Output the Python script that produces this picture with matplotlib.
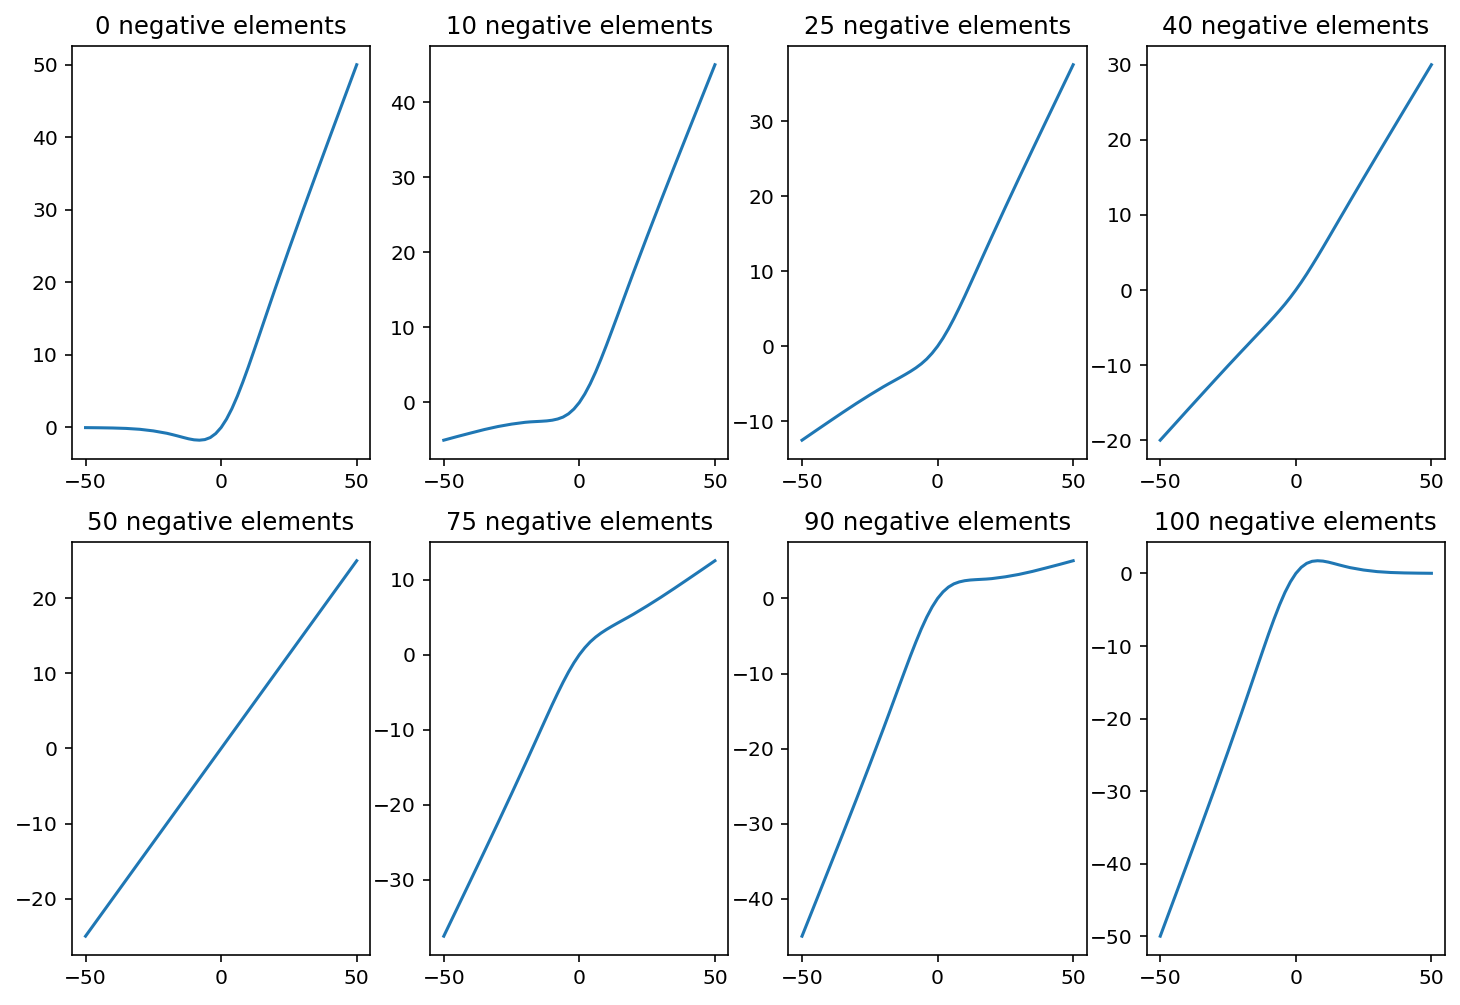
import matplotlib
matplotlib.use("Agg")
import matplotlib.pyplot as plt

# number of negative elements (out of 100) for each panel
neg_counts = [0, 10, 25, 40, 50, 75, 90, 100]

x = [-50, -45, -40, -35, -30, -25, -20, -18, -16, -14, -12, -10, -8, -6, -4, -2,
     0, 2, 4, 6, 8, 10, 12, 14, 16, 18, 20, 25, 30, 35, 40, 45, 50]

# values
y_0 = [-0.02, -0.04, -0.07, -0.13, -0.25, -0.47, -0.80, -0.98, -1.17, -1.37, -1.56, -1.70,
       -1.75, -1.67, -1.39, -0.84, 0, 1.16, 2.61, 4.33, 6.25, 8.30, 10.45, 12.63, 14.83,
       17.02, 19.20, 24.53, 29.75, 34.87, 39.93, 44.96, 49.98]
y_10 = [-5.02, -4.53, -4.06, -3.60, -3.20, -2.88, -2.64, -2.58, -2.54, -2.50, -2.45, -2.36,
        -2.20, -1.94, -1.51, -0.87, 0, 1.13, 2.49, 4.06, 5.80, 7.64, 9.56, 11.50, 13.46,
        15.42, 17.36, 22.12, 26.80, 31.40, 35.94, 40.47, 44.98]
y_25 = [-12.51, -11.27, -10.04, -8.82, -7.63, -6.49, -5.40, -4.99, -4.59, -4.19, -3.78, -3.35,
        -2.88, -2.34, -1.70, -0.92, 0, 1.08, 2.31, 3.67, 5.13, 6.65, 8.23, 9.82, 11.42,
        13.01, 14.60, 18.52, 22.38, 26.19, 29.97, 33.73, 37.49]
y_40 = [-20.00, -18.01, -16.01, -14.03, -12.05, -10.09, -8.16, -7.40, -6.63, -5.87, -5.11, -4.34,
        -3.55, -2.73, -1.88, -0.97, 0, 1.03, 2.12, 3.27, 4.45, 5.66, 6.89, 8.13, 9.37,
        10.60, 11.84, 14.91, 17.95, 20.97, 23.99, 26.99, 30.00]
y_50 = [-25, -22.5, -20, -17.5, -15, -12.5, -10, -9, -8, -7, -6, -5, -4, -3, -2, -1,
        0, 1, 2, 3, 4, 5, 6, 7, 8, 9, 10, 12.5, 15, 17.5, 20, 22.5, 25]
y_75 = [-37.49, -33.73, -29.97, -26.19, -22.38, -18.52, -14.60, -13.01, -11.42, -9.82, -8.23, -6.65,
        -5.13, -3.67, -2.31, -1.08, 0, 0.92, 1.70, 2.34, 2.88, 3.35, 3.78, 4.19, 4.59,
        4.99, 5.40, 6.49, 7.63, 8.82, 10.04, 11.27, 12.51]
y_90 = [-44.98, -40.47, -35.94, -31.40, -26.80, -22.12, -17.36, -15.42, -13.46, -11.50, -9.56, -7.64,
        -5.80, -4.06, -2.49, -1.13, 0, 0.87, 1.51, 1.94, 2.20, 2.36, 2.45, 2.50, 2.54,
        2.58, 2.64, 2.88, 3.20, 3.60, 4.06, 4.53, 5.02]
y_100 = [-49.98, -44.96, -39.93, -34.87, -29.75, -24.53, -19.20, -17.02, -14.83, -12.63, -10.45, -8.30,
         -6.25, -4.33, -2.61, -1.16, 0, 0.84, 1.39, 1.67, 1.75, 1.70, 1.56, 1.37, 1.17,
         0.98, 0.80, 0.47, 0.25, 0.13, 0.07, 0.04, 0.02]

series = [y_0, y_10, y_25, y_40, y_50, y_75, y_90, y_100]

fig, axes = plt.subplots(2, 4, figsize=(10, 6.884), dpi=146)
fig.subplots_adjust(left=0.0493, right=0.9897, top=0.9542, bottom=0.0498,
                    wspace=0.201, hspace=0.201)

for ax, n, y in zip(axes.flat, neg_counts, series):
    ax.plot(x, y)
    ax.set_title(f"{n} negative elements")
    ax.set_xticks([-50, 0, 50])

fig.savefig("out.png", dpi=146)
